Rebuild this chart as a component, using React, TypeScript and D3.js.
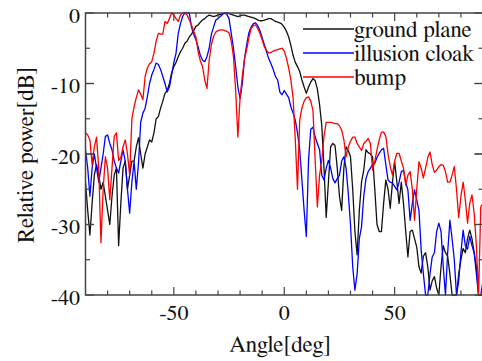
import React from "react";
import * as d3 from "d3";

const angles: number[] = d3.range(-90, 91, 1);

const groundPlane: number[] = [
  -24, -28, -31.5, -27, -23, -21.5, -23, -25, -24, -26,
  -28, -30, -26, -23, -22, -33, -27, -22, -21, -25,
  -23, -21, -21, -19, -17.7, -20, -22, -20, -19, -18,
  -18.3, -17, -15, -14.7, -13.5, -12.5, -11.4, -11, -10, -8.5,
  -7.6, -7, -6.2, -5.5, -5, -4.3, -4, -3.4, -3, -2.5,
  -1.9, -1.7, -1.3, -1, -0.8, -0.5, -0.3, -0.4, -0.5, -0.4,
  -0.3, -0.2, -0.1, 0, 0, -0.1, -0.2, -0.3, -0.4, -0.5,
  -0.4, -0.3, -0.3, -0.4, -0.5, -0.6, -0.7, -0.8, -1, -1.1,
  -1.1, -1, -0.9, -0.8, -0.8, -1, -1.2, -1.3, -1.4, -1.6,
  -2, -2.6, -3.4, -4.6, -6, -7, -7.6, -8.3, -9.5, -10.5,
  -11.4, -10.5, -9.8, -9.3, -9.6, -10.8, -13, -16, -22, -29,
  -24, -19, -18.5, -18.8, -22, -26, -28, -22, -19, -19.5,
  -20.4, -25, -31, -34.3, -28, -24, -22.3, -19.4, -19.8, -20,
  -20.4, -25, -30, -31, -31, -27, -23.7, -25, -27.7, -24,
  -21.1, -24, -27, -24, -27, -31, -34.6, -31, -30.8, -32,
  -33.2, -36, -36.9, -34.5, -34, -36, -39.3, -38, -37.4, -39,
  -40, -36, -33, -34, -34.5, -37, -40, -40, -40, -37,
  -35, -33.4, -34, -32, -30.8, -32, -34, -36, -40, -40,
  -40,
];

const illusionCloak: number[] = [
  -19.4, -22, -26, -22, -20, -22, -24, -22, -20, -17.5,
  -17.3, -18.5, -19.4, -21, -22, -22.7, -21, -19.4, -21, -25,
  -28.4, -24, -21.1, -25, -21.3, -15.5, -14.2, -13.5, -11.9, -10,
  -8.8, -8, -7.1, -7.3, -8, -9, -10, -11.2, -10.5, -8.8,
  -7, -5.7, -2.9, -1.5, -0.5, 0, 0, 0, -2, -3,
  -3.8, -4.8, -6, -6.7, -6.9, -6.2, -5, -3, -2, -1,
  -0.8, -0.5, -0.2, 0, -0.2, -0.8, -2.9, -5, -7.6, -10.5,
  -12.1, -10, -6.5, -4.5, -2.8, -2, -1.5, -1.4, -1.8, -2.5,
  -3.5, -4.5, -5.5, -6.5, -7.2, -8, -9, -9.5, -11.2, -11.6,
  -11, -11.5, -12, -13.3, -14.2, -15.2, -17, -19.4, -23.7, -28,
  -31.7, -20.9, -16.5, -16.2, -17.6, -18.5, -19.4, -23, -23.7, -22,
  -20.9, -22, -23.5, -24.1, -23.5, -23, -21, -20.4, -22, -25.6,
  -30, -36, -39.3, -37, -32, -30.3, -26, -23.5, -22.5, -22,
  -21.5, -21.3, -20.5, -19.9, -19.4, -19.2, -21.5, -23.7, -24, -24.1,
  -24.6, -25.1, -24, -22.5, -22.3, -24, -25.1, -29.4, -27, -25.1,
  -26.5, -28, -33.6, -37, -40, -40, -37, -34.6, -34, -31,
  -29.8, -31, -36, -40, -34, -29.4, -32, -35, -40, -38,
  -34, -30.8, -33, -33.5, -31.7, -33, -34, -37, -40, -40,
  -38,
];

const bump: number[] = [
  -17, -17.3, -18, -21.5, -19, -17.6, -22, -32.6, -25, -20.4,
  -22, -26.5, -22, -17.5, -17, -20.9, -20.5, -19, -18, -20,
  -23, -15, -13.3, -12, -10.9, -11.5, -12.3, -9, -7.8, -7.2,
  -6.9, -5.7, -4, -2.9, -3, -3, -1.2, -1.5, -0.8, 0,
  -0.3, -0.8, -1.2, -0.3, 0, 0, -0.3, -1, -1.7, -2.6,
  -3.4, -5.5, -6.8, -7.6, -9.5, -10.7, -6.7, -4.5, -3.3, -2.7,
  -2.5, -2.4, -2.4, -2.5, -2.6, -2.8, -4, -6.2, -11, -17.6,
  -12, -9, -6.5, -5.2, -3.5, -2.2, -1.8, -1.7, -2.2, -2.9,
  -3.8, -4.8, -5.3, -5.7, -5.6, -5.4, -5.3, -5.2, -5.1, -5,
  -5.4, -6.4, -7.8, -9.5, -12, -18, -25, -15.2, -13.5, -12.5,
  -12, -11.9, -12.5, -13.8, -20.9, -27.5, -23, -20.9, -17.5, -15.5,
  -15.5, -15.5, -15.6, -15.7, -15.7, -16, -16.6, -18, -20.4, -19,
  -18.2, -17.6, -17.6, -18.5, -19, -19.5, -18.5, -18.2, -17.8, -18.5,
  -22.3, -21, -19.4, -18, -16.9, -16.9, -17.5, -20, -21.8, -23,
  -21, -19.9, -19.9, -21, -22, -24.4, -23, -22.5, -25, -29.4,
  -25, -21.1, -22, -23.4, -22, -20.5, -19.7, -21.5, -22.6, -22.3,
  -21.8, -21.5, -21.6, -22.5, -24, -24, -23, -21.8, -25, -29,
  -26, -24, -26.5, -29.8, -27, -25.8, -28.4, -33, -40, -27.5,
  -27,
];

const seriesNames: string[] = ["ground plane", "illusion cloak", "bump"];
const seriesColors: string[] = ["#111111", "#0000ff", "#ff0000"];
const seriesValues: number[][] = [groundPlane, illusionCloak, bump];

const xMajorTicks: number[] = [-50, 0, 50];
const xMinorTicks: number[] = d3.range(-80, 90, 10);
const yMajorTicks: number[] = [0, -10, -20, -30, -40];
const yMinorTicks: number[] = d3.range(-35, 0, 5);

const W = 482;
const H = 361;
const left = 85.5;
const right = 483;
const top = 13;
const bottom = 295;

const FONT = "FreeSerif, 'Liberation Serif', 'Times New Roman', serif";

export default function App() {
  const x = d3.scaleLinear().domain([-90, 90]).range([left, right]);
  const y = d3.scaleLinear().domain([-40, 0]).range([bottom, top]);
  const line = d3
    .line<number>()
    .x((_, i) => x(angles[i]))
    .y((d) => y(d));

  const axisColor = "#444";
  const ts = { fontFamily: FONT };

  return (
    <svg
      width={W}
      height={H}
      style={{ position: "absolute", left: 0, top: 0, background: "#fff", fontFamily: FONT }}
    >
      <defs>
        <clipPath id="plotclip">
          <rect x={left} y={top - 1} width={right - left} height={bottom - top + 2} />
        </clipPath>
      </defs>
      <g clipPath="url(#plotclip)">
        {seriesValues.map((vals, k) => (
          <path
            key={k}
            d={line(vals) || ""}
            fill="none"
            stroke={seriesColors[k]}
            strokeWidth={1.3}
            strokeLinejoin="round"
          />
        ))}
      </g>
      <rect
        x={left}
        y={top}
        width={right - left}
        height={bottom - top}
        fill="none"
        stroke={axisColor}
        strokeWidth={1.5}
      />
      {xMinorTicks.map((t) => {
        const major = xMajorTicks.includes(t);
        const len = major ? 8 : 4.5;
        return (
          <g key={"xt" + t} stroke={axisColor} strokeWidth={1.2}>
            <line x1={x(t)} x2={x(t)} y1={bottom} y2={bottom - len} />
            <line x1={x(t)} x2={x(t)} y1={top} y2={top + len} />
          </g>
        );
      })}
      {xMajorTicks.map((t) => (
        <text key={"xl" + t} x={x(t)} y={319.5} fontSize={22} textAnchor="middle" fill="#111" style={ts}>
          {t}
        </text>
      ))}
      {[...yMajorTicks, ...yMinorTicks].map((t) => {
        const major = yMajorTicks.includes(t);
        const len = major ? 8.5 : 4.5;
        return (
          <g key={"yt" + t} stroke={axisColor} strokeWidth={1.2}>
            <line x1={left} x2={left + len} y1={y(t)} y2={y(t)} />
            <line x1={right} x2={right - len} y1={y(t)} y2={y(t)} />
          </g>
        );
      })}
      {yMajorTicks.map((t) => (
        <text key={"yl" + t} x={80} y={y(t) + 9.5} fontSize={22} textAnchor="end" fill="#111" style={ts}>
          {t}
        </text>
      ))}
      <text x={280} y={352} fontSize={23} textAnchor="middle" fill="#111" style={ts}>
        Angle[deg]
      </text>
      <text
        transform={`translate(33, 155) rotate(-90)`}
        fontSize={23}
        textAnchor="middle"
        fill="#111"
        style={ts}
      >
        Relative power[dB]
      </text>
      {seriesNames.map((name, k) => (
        <g key={"lg" + k}>
          <line
            x1={303}
            x2={354}
            y1={29 + k * 24}
            y2={29 + k * 24}
            stroke={seriesColors[k]}
            strokeWidth={1.3}
          />
          <text x={354} y={37 + k * 24} fontSize={23} fill="#111" style={ts}>
            {name}
          </text>
        </g>
      ))}
    </svg>
  );
}
